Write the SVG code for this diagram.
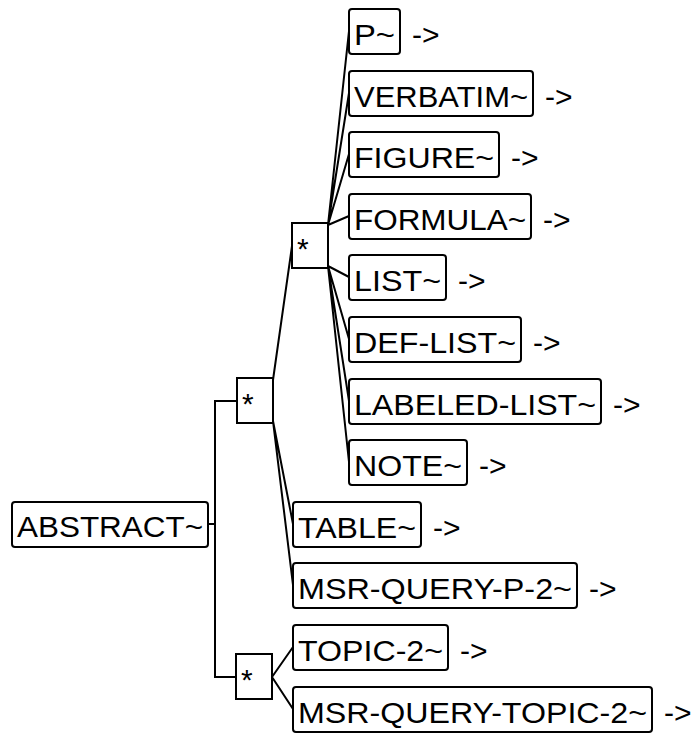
<svg xmlns="http://www.w3.org/2000/svg" width="696" height="734" viewBox="0 0 696 734">
<style>
.b{fill:#fff;stroke:#000;stroke-width:2}
.s{fill:#fff;stroke:#000;stroke-width:2}
.t{font-family:"Liberation Sans",Arial,sans-serif;font-size:30px;fill:#000}
.c{fill:none;stroke:#000;stroke-width:2}
</style>
<rect width="696" height="734" fill="#fff"/>
<g id="connectors">
<path class="c" d="M208,524 H215 M215,401 V677 M214,401 H237 M214,677 H236"/>
<path class="c" d="M273,380 L292,246 M273,421 L293,524 M273,421 L293,585"/>
<path class="c" d="M328,225 L349,31 M328,225 L349,93 M328,225 L349,154 M328,225 L349,216 M328,266 L349,277 M328,266 L349,339 M328,266 L349,401 M328,266 L349,462"/>
<path class="c" d="M272,677 L293,647 M272,677 L293,709"/>
</g>
<g id="abstract"><rect class="b" x="12" y="502" width="196" height="45" rx="3"/><text class="t" x="17" y="537" textLength="186" lengthAdjust="spacingAndGlyphs">ABSTRACT~</text></g>
<g id="seq1"><rect class="s" x="237" y="378" width="36" height="45"/><text class="t" x="242" y="414">*</text></g>
<g id="seq2"><rect class="s" x="292" y="223" width="36" height="45"/><text class="t" x="297" y="259">*</text></g>
<g id="seq3"><rect class="s" x="236" y="654" width="36" height="45"/><text class="t" x="241" y="690">*</text></g>
<g id="p"><rect class="b" x="349" y="9" width="51" height="45" rx="3"/><text class="t" x="354" y="45" textLength="41" lengthAdjust="spacingAndGlyphs">P~</text><text class="t" x="412" y="45">-&gt;</text></g>
<g id="verbatim"><rect class="b" x="349" y="71" width="184" height="45" rx="3"/><text class="t" x="354" y="107" textLength="174" lengthAdjust="spacingAndGlyphs">VERBATIM~</text><text class="t" x="545" y="107">-&gt;</text></g>
<g id="figure"><rect class="b" x="349" y="132" width="150" height="45" rx="3"/><text class="t" x="354" y="168" textLength="140" lengthAdjust="spacingAndGlyphs">FIGURE~</text><text class="t" x="511" y="168">-&gt;</text></g>
<g id="formula"><rect class="b" x="349" y="194" width="182" height="45" rx="3"/><text class="t" x="354" y="230" textLength="172" lengthAdjust="spacingAndGlyphs">FORMULA~</text><text class="t" x="543" y="230">-&gt;</text></g>
<g id="list"><rect class="b" x="349" y="255" width="97" height="45" rx="3"/><text class="t" x="354" y="291" textLength="87" lengthAdjust="spacingAndGlyphs">LIST~</text><text class="t" x="458" y="291">-&gt;</text></g>
<g id="def-list"><rect class="b" x="349" y="317" width="172" height="45" rx="3"/><text class="t" x="354" y="353" textLength="162" lengthAdjust="spacingAndGlyphs">DEF-LIST~</text><text class="t" x="533" y="353">-&gt;</text></g>
<g id="labeled-list"><rect class="b" x="349" y="379" width="252" height="45" rx="3"/><text class="t" x="354" y="415" textLength="242" lengthAdjust="spacingAndGlyphs">LABELED-LIST~</text><text class="t" x="613" y="415">-&gt;</text></g>
<g id="note"><rect class="b" x="349" y="440" width="118" height="45" rx="3"/><text class="t" x="354" y="476" textLength="108" lengthAdjust="spacingAndGlyphs">NOTE~</text><text class="t" x="479" y="476">-&gt;</text></g>
<g id="table"><rect class="b" x="293" y="502" width="128" height="45" rx="3"/><text class="t" x="298" y="538" textLength="118" lengthAdjust="spacingAndGlyphs">TABLE~</text><text class="t" x="433" y="538">-&gt;</text></g>
<g id="msr-query-p-2"><rect class="b" x="293" y="563" width="284" height="45" rx="3"/><text class="t" x="298" y="599" textLength="274" lengthAdjust="spacingAndGlyphs">MSR-QUERY-P-2~</text><text class="t" x="589" y="599">-&gt;</text></g>
<g id="topic-2"><rect class="b" x="293" y="625" width="155" height="45" rx="3"/><text class="t" x="298" y="661" textLength="145" lengthAdjust="spacingAndGlyphs">TOPIC-2~</text><text class="t" x="460" y="661">-&gt;</text></g>
<g id="msr-query-topic-2"><rect class="b" x="293" y="687" width="359" height="45" rx="3"/><text class="t" x="298" y="723" textLength="349" lengthAdjust="spacingAndGlyphs">MSR-QUERY-TOPIC-2~</text><text class="t" x="664" y="723">-&gt;</text></g>
</svg>
